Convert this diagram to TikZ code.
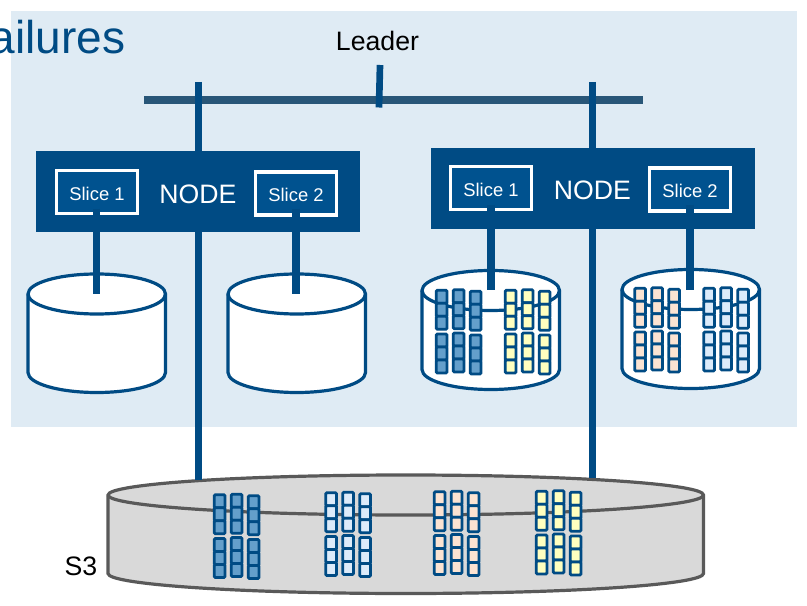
\documentclass[tikz,border=0pt]{standalone}
\usepackage{fontspec}
\setmainfont{Liberation Sans}
\definecolor{bgblue}{HTML}{DFEBF4}
\definecolor{navy}{HTML}{004B84}
\definecolor{slicefill}{HTML}{00528F}
\definecolor{barblue}{HTML}{285678}
\definecolor{diskgray}{HTML}{D9D9D9}
\definecolor{rimgray}{HTML}{595959}
\definecolor{cellblue}{HTML}{649FCB}
\definecolor{cellyellow}{HTML}{FFFFBF}
\definecolor{cellpeach}{HTML}{FBE3D2}
\definecolor{cellpale}{HTML}{DCEBFA}
\tikzset{
  x=0.75pt,y=-0.75pt,
  nodebox/.style={fill=navy,draw=none,minimum width=243pt,minimum height=60.5pt,inner sep=0pt},
  slicebox/.style={fill=slicefill,draw=white,line width=2.6pt,minimum width=60.5pt,minimum height=32pt,inner sep=0pt,text=white,text height=12.1pt,text depth=0pt,font=\fontsize{13.8}{16}\selectfont},
  nodelabel/.style={text=white,font=\fontsize{20}{24}\selectfont,inner sep=0pt},
  plainlabel/.style={text=black,font=\fontsize{20}{24}\selectfont,inner sep=0pt},
  bar/.style={draw=navy,line width=5.6pt},
  leaderbar/.style={draw=barblue,line width=5.6pt},
  diskline/.style={draw=navy,line width=2.4pt},
  s3line/.style={draw=rimgray,line width=2.4pt},
  cell/.style={draw=navy,line width=2.1pt,rounded corners=0.8pt},
}
% #1 left, #2 top, #3 fill: one stack of three cells
\newcommand{\cellstack}[3]{%
  \foreach \k in {0,1,2}{\draw[cell,fill=#3] (#1+1.3,{#2+1.3+13*\k}) rectangle ++(10.7,13);}%
}
% #1 left, #2 top, #3 fill: three columns of two stacks
\newcommand{\cellgroup}[3]{%
  \cellstack{#1}{#2}{#3}\cellstack{#1}{#2+43.7}{#3}%
  \cellstack{#1+17}{#2-0.5}{#3}\cellstack{#1+17}{#2+42.7}{#3}%
  \cellstack{#1+34}{#2+1}{#3}\cellstack{#1+34}{#2+44.7}{#3}%
}
% #1 left, #2 right, #3 top of ellipse, #4 bottom, #5 style, #6 fill
\newcommand{\barrel}[6]{%
  \pgfmathsetmacro{\rxx}{(#2-#1)/2}%
  \draw[#5,fill=#6] (#1,#3+20) -- (#1,#4-20) arc[start angle=180,end angle=360,x radius=\rxx,y radius=-20] -- (#2,#3+20) arc[start angle=0,end angle=180,x radius=\rxx,y radius=-20] -- cycle;%
  \draw[#5] (#1,#3+20) arc[start angle=180,end angle=360,x radius=\rxx,y radius=-20];%
}
\begin{document}
\begin{tikzpicture}
\useasboundingbox (0,0) rectangle (807,606);
\clip (0,0) rectangle (807,606);
\fill[bgblue] (11,11) rectangle (797,427);
\node[anchor=base west,inner sep=0pt,text=navy,font=\fontsize{34.5}{40}\selectfont] (title) at (-38.5,53.5) {Failures};

% disks
\barrel{28}{165.5}{274}{392.5}{diskline}{white}
\barrel{228}{365.5}{274}{392.5}{diskline}{white}
\barrel{422}{559.5}{270.5}{389.5}{diskline}{white}
\barrel{622}{759.5}{269.5}{388.5}{diskline}{white}
\cellgroup{435}{289}{cellblue}
\cellgroup{504}{289}{cellyellow}
\cellgroup{633.5}{287}{cellpeach}
\cellgroup{702.5}{287}{cellpale}

% S3
\barrel{108}{703.5}{475}{593.5}{s3line}{diskgray}
\cellgroup{213}{493.5}{cellblue}
\cellgroup{324.5}{491.5}{cellpale}
\cellgroup{433}{490.5}{cellpeach}
\cellgroup{535}{490}{cellyellow}
\node[plainlabel,anchor=center] (s3) at (81,566) {S3};

% leader
\node[plainlabel,anchor=center] (leader) at (377.5,41) {Leader};
\coordinate (busL) at (144,100);
\coordinate (busR) at (643,100);
\coordinate (tickT) at (380,65);
\coordinate (tickB) at (379,107.5);
\draw[leaderbar] (busL) -- (busR);
\draw[bar,line width=5pt] (tickT) -- (tickB);

% vertical lines to S3
\coordinate (topA) at (198.3,82);
\coordinate (botA) at (198.3,480);
\coordinate (topB) at (592.5,82);
\coordinate (botB) at (592.5,478);
\draw[bar] (topA) -- (botA);
\draw[bar] (topB) -- (botB);

% nodes
\node[nodebox] (nodeA) at (198,191.7) {};
\node[nodebox] (nodeB) at (592.5,188.2) {};
\node[nodelabel] (labelA) at (198,194) {NODE};
\node[nodelabel] (labelB) at (592.5,190) {NODE};
\node[slicebox] (a1) at (97,192) {Slice 1};
\node[slicebox] (a2) at (296,193.5) {Slice 2};
\node[slicebox] (b1) at (491,188) {Slice 1};
\node[slicebox] (b2) at (690,189.5) {Slice 2};

% slice to disk
\coordinate (da1) at (96.5,294);
\coordinate (da2) at (296,294);
\coordinate (db1) at (491,290);
\coordinate (db2) at (690,290);
\draw[bar] (96.5,209) -- (da1);
\draw[bar] (296,209) -- (da2);
\draw[bar] (491,205) -- (db1);
\draw[bar] (690,205) -- (db2);
\end{tikzpicture}
\end{document}
